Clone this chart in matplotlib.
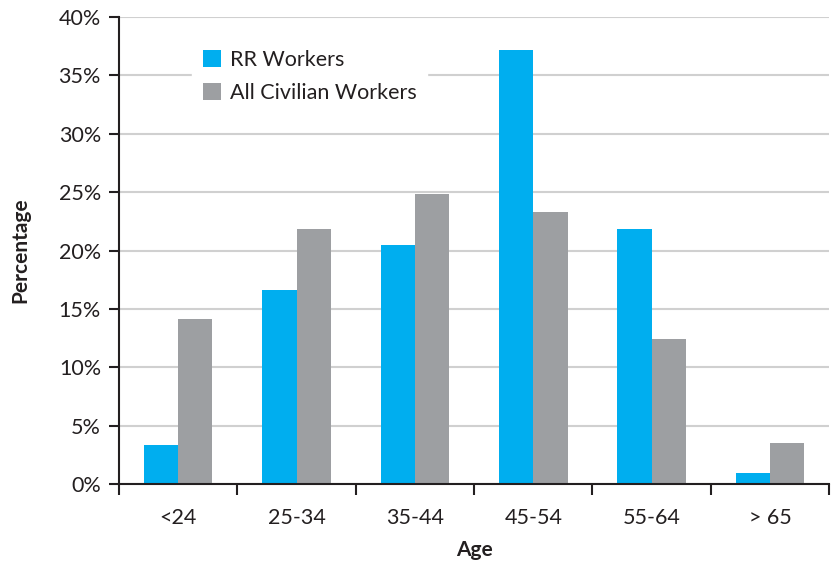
import numpy as np
import matplotlib
matplotlib.use("Agg")
import matplotlib.pyplot as plt
from matplotlib.ticker import PercentFormatter

plt.rcParams['font.family'] = ['Lato', 'DejaVu Sans']

ages = ["<24", "25-34", "35-44", "45-54", "55-64", "> 65"]
rr_workers = [3.3, 16.6, 20.5, 37.2, 21.8, 0.9]
civilian = [14.1, 21.8, 24.8, 23.3, 12.4, 3.5]

blue = "#00AEEF"
gray = "#9D9FA2"
dark = "#231F20"

fig = plt.figure(figsize=(8.35, 5.67), dpi=100)
ax = fig.add_axes([0.1425, 0.1464, 0.8505, 0.8236])

x = np.arange(len(ages))
w = 0.29
ax.bar(x - w/2, rr_workers, w, color=blue, label="RR Workers", zorder=2)
ax.bar(x + w/2, civilian, w, color=gray, label="All Civilian Workers", zorder=2)

ax.set_xlim(-0.5, len(ages) - 0.5)
ax.set_ylim(0, 40)
ax.set_yticks(np.arange(0, 41, 5))
ax.yaxis.set_major_formatter(PercentFormatter(decimals=0))
ax.yaxis.grid(True, color="#D0D0D0", linewidth=1.5, zorder=0)
ax.set_axisbelow(True)

# category labels between boundary ticks
ax.set_xticks(np.arange(-0.5, len(ages), 1))
ax.set_xticklabels([])
ax.set_xticks(x, minor=True)
ax.set_xticklabels(ages, minor=True)
ax.tick_params(axis='x', which='minor', length=0, pad=17, labelsize=15.5, colors=dark)
ax.tick_params(axis='x', which='major', length=8, width=1.5, color=dark)
ax.tick_params(axis='y', length=7, width=1.5, color=dark, labelsize=15.5, labelcolor=dark, pad=6)

for s in ["top", "right"]:
    ax.spines[s].set_visible(False)
for s in ["left", "bottom"]:
    ax.spines[s].set_linewidth(1.5)
    ax.spines[s].set_color(dark)

ax.set_xlabel("Age", fontsize=15, fontweight="bold", color=dark, labelpad=9)
ax.set_ylabel("Percentage", fontsize=15, fontweight="bold", color=dark, labelpad=20)

leg = ax.legend(loc="upper left", bbox_to_anchor=(0.088, 0.975), frameon=True,
                fancybox=False, edgecolor="white", framealpha=1, fontsize=15.5,
                handlelength=0.85, handleheight=0.85, handletextpad=0.4,
                borderpad=0.5, labelspacing=0.6)
for t in leg.get_texts():
    t.set_color(dark)

fig.savefig("out.png", dpi=100)
